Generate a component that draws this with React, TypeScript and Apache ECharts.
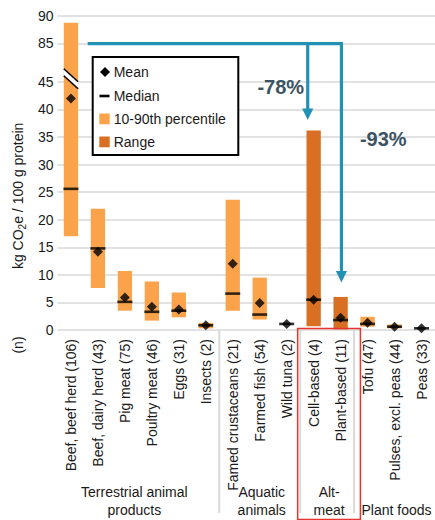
import React, { useEffect, useRef } from 'react';
import * as echarts from 'echarts';

// Food products and sample sizes
const categories = [
  'Beef, beef herd (106)',
  'Beef, dairy herd (43)',
  'Pig meat (75)',
  'Poultry meat (46)',
  'Eggs (31)',
  'Insects (2)',
  'Famed crustaceans (21)',
  'Farmed fish (54)',
  'Wild tuna (2)',
  'Cell-based (4)',
  'Plant-based (11)',
  'Tofu (47)',
  'Pulses, excl. peas (44)',
  'Peas (33)',
];

// kg CO2e per 100 g protein
const p10 = [17, 7.6, 3.5, 1.7, 2.3, 0.3, 3.5, 1.9, null, null, null, 0.6, 0.3, null];
const p90 = [88.7, 22, 10.7, 8.8, 6.8, 1.3, 23.6, 9.5, null, null, null, 2.4, 1.0, null];
const rangeMin = [null, null, null, null, null, null, null, null, null, 0.7, 0.1, null, null, null];
const rangeMax = [null, null, null, null, null, null, null, null, null, 36.2, 6.0, null, null, null];
const means = [42, 14.2, 5.9, 4.2, 3.7, 0.85, 12, 4.9, 1.1, 5.5, 2.2, 1.3, 0.6, 0.3];
const medians = [25.6, 14.8, 5.1, 3.3, 3.5, 0.85, 6.6, 2.8, 1.1, 5.5, 1.8, 1.1, 0.6, 0.3];

// Broken value axis: ticks and their labels
const yTickLabels = [0, 5, 10, 15, 20, 25, 30, 35, 40, 45, 85, 90];

// Category groups along the bottom
const groupNames = ['Terrestrial animal\nproducts', 'Aquatic\nanimals', 'Alt-\nmeat', 'Plant foods'];
const groupSizes = [6, 3, 2, 3];

// Reduction arrows (category position, value)
const arrowStartX = 0.62;
const arrowLevel = 84.7;
const arrowTargets = [
  { x: 8.78, tip: 38.1 },
  { x: 10.03, tip: 8.6 },
];
const reductionLabels = [
  { text: '-78%', x: 7.78, y: 44.1 },
  { text: '-93%', x: 11.58, y: 34.6 },
];

const FONT = "'Liberation Sans', Arial, Helvetica, sans-serif";
const TEXT = '#1a1a1a';
const PCT = '#FBA34B';
const RANGE = '#D86F22';
const TEAL = '#2391B5';
const NOTE = '#3B5363';
const GRID = '#E2E2E2';

// Compress the 45–85 stretch so the beef outlier fits
const BREAK_LO = 45;
const BREAK_HI = 85;
const BREAK_SPAN = 7;
function disp(v: number): number {
  if (v <= BREAK_LO) return v;
  if (v >= BREAK_HI) return v - (BREAK_HI - BREAK_LO) + BREAK_SPAN;
  return BREAK_LO + ((v - BREAK_LO) * BREAK_SPAN) / (BREAK_HI - BREAK_LO);
}
const yTicksDisp = yTickLabels.map(disp);

function barSeries(name: string, lo: (number | null)[], hi: (number | null)[], color: string) {
  const data: number[][] = [];
  lo.forEach((l, i) => {
    const h = hi[i];
    if (l != null && h != null) data.push([i, disp(l), disp(h)]);
  });
  return {
    name,
    type: 'custom',
    z: 2,
    itemStyle: { color },
    encode: { x: 0, y: [1, 2] },
    data,
    renderItem: (params: any, api: any) => {
      const x = api.value(0);
      const a = api.coord([x, api.value(1)]);
      const b = api.coord([x, api.value(2)]);
      const w = api.size([1, 0])[0] * 0.53;
      return {
        type: 'rect',
        shape: { x: a[0] - w / 2, y: b[1], width: w, height: a[1] - b[1] },
        style: { fill: color },
      };
    },
  };
}

function buildOption() {
  return {
    animation: false,
    textStyle: { fontFamily: FONT },
    grid: { left: 52, right: 0, top: 15.7, bottom: 190 },
    xAxis: {
      type: 'category',
      data: categories,
      axisLine: { show: false },
      axisTick: { show: false },
      axisLabel: {
        rotate: 90,
        interval: 0,
        margin: 9,
        fontSize: 14,
        color: TEXT,
        fontFamily: FONT,
      },
    },
    yAxis: {
      type: 'value',
      min: 0,
      max: disp(90),
      interval: 1,
      axisLine: { show: false },
      axisTick: { show: false, customValues: yTicksDisp },
      axisLabel: {
        customValues: yTicksDisp,
        fontSize: 14,
        color: TEXT,
        margin: 4,
        fontFamily: FONT,
        formatter: (v: number) => {
          const k = yTicksDisp.findIndex((t) => Math.abs(t - v) < 1e-6);
          return k >= 0 ? String(yTickLabels[k]) : '';
        },
      },
      splitLine: { show: true, lineStyle: { color: GRID, width: 2 } },
      name: '{a|kg CO}{s|2}{a|e / 100 g protein}',
      nameLocation: 'middle',
      nameRotate: 90,
      nameGap: 28,
      nameTextStyle: {
        padding: [0, 46, 0, 0],
        rich: {
          a: { fontSize: 14, color: TEXT, fontFamily: FONT, lineHeight: 18 },
          s: { fontSize: 10, color: TEXT, fontFamily: FONT, lineHeight: 18, padding: [9, 0, 0, 0] },
        },
      },
    },
    series: [
      barSeries('10-90th percentile', p10, p90, PCT),
      barSeries('Range', rangeMin, rangeMax, RANGE),
      {
        name: 'Median',
        type: 'scatter',
        z: 3,
        symbol: 'rect',
        symbolSize: [15, 2.6],
        itemStyle: { color: '#000' },
        data: medians.map((m, i) => [i, disp(m)]),
      },
      {
        name: 'Mean',
        type: 'scatter',
        z: 4,
        symbol: 'diamond',
        symbolSize: 10,
        itemStyle: { color: '#000' },
        data: means.map((m, i) => [i, disp(m)]),
      },
    ],
  };
}

function buildGraphics(chart: any) {
  // category axis snaps to whole indices, so fractional positions are interpolated
  const c0 = chart.convertToPixel({ gridIndex: 0 }, [0, 0]) as number[];
  const c1 = chart.convertToPixel({ gridIndex: 0 }, [1, 0]) as number[];
  const band = c1[0] - c0[0];
  const xPix = (i: number) => c0[0] + i * band;
  const yPix = (v: number) => (chart.convertToPixel({ gridIndex: 0 }, [0, disp(v)]) as number[])[1];
  const px = (i: number, v: number) => [xPix(i), yPix(v)];
  const y0 = c0[1];
  const boundary = (k: number) => xPix(k - 0.5);
  const els: any[] = [];

  // axis break marks across the beef bar
  const bw = band * 0.53;
  const yMid = yPix(48.2);
  const l = xPix(0) - bw / 2;
  const r = xPix(0) + bw / 2;
  els.push({
    type: 'polygon',
    z: 10,
    shape: { points: [[l, yMid - 10], [r, yMid + 3], [r, yMid + 10], [l, yMid - 3]] },
    style: { fill: '#fff' },
  });
  els.push({ type: 'line', z: 11, shape: { x1: l, y1: yMid - 10, x2: r, y2: yMid + 3 }, style: { stroke: '#000', lineWidth: 1.6 } });
  els.push({ type: 'line', z: 11, shape: { x1: l, y1: yMid - 3, x2: r, y2: yMid + 10 }, style: { stroke: '#000', lineWidth: 1.6 } });

  // legend box
  const lx = 92.7;
  const ly = 57;
  const legendText = (t: string, y: number) => ({
    type: 'text',
    z: 21,
    x: lx + 21,
    y: ly + y,
    style: { text: t, fontSize: 14, fill: TEXT, fontFamily: FONT, verticalAlign: 'middle', align: 'left' },
  });
  els.push({
    type: 'rect',
    z: 20,
    shape: { x: lx, y: ly, width: 145.6, height: 98 },
    style: { fill: '#fff', stroke: '#000', lineWidth: 2 },
  });
  els.push({
    type: 'polygon',
    z: 21,
    shape: { points: [[lx + 12.3, ly + 10], [lx + 17.3, ly + 15], [lx + 12.3, ly + 20], [lx + 7.3, ly + 15]] },
    style: { fill: '#000' },
  });
  els.push(legendText('Mean', 15));
  els.push({ type: 'rect', z: 21, shape: { x: lx + 6.8, y: ly + 37.7, width: 10, height: 2.6 }, style: { fill: '#000' } });
  els.push(legendText('Median', 39));
  els.push({ type: 'rect', z: 21, shape: { x: lx + 6.6, y: ly + 56.5, width: 10.4, height: 10.8 }, style: { fill: PCT } });
  els.push(legendText('10-90th percentile', 62));
  els.push({ type: 'rect', z: 21, shape: { x: lx + 6.6, y: ly + 79.5, width: 10.4, height: 10.8 }, style: { fill: RANGE } });
  els.push(legendText('Range', 85));

  // reduction arrows
  const start = px(arrowStartX, arrowLevel);
  const yH = start[1];
  const head = 11.5;
  const half = 5.6;
  arrowTargets.forEach((a, k) => {
    const tip = px(a.x, a.tip);
    if (k === arrowTargets.length - 1) {
      els.push({
        type: 'polyline',
        z: 15,
        shape: { points: [[start[0], yH], [tip[0], yH], [tip[0], tip[1] - head + 1]] },
        style: { stroke: TEAL, lineWidth: 3.2, fill: null, lineJoin: 'miter' },
      });
    } else {
      els.push({
        type: 'line',
        z: 15,
        shape: { x1: tip[0], y1: yH, x2: tip[0], y2: tip[1] - head + 1 },
        style: { stroke: TEAL, lineWidth: 3.2 },
      });
    }
    els.push({
      type: 'polygon',
      z: 15,
      shape: { points: [[tip[0] - half, tip[1] - head], [tip[0] + half, tip[1] - head], [tip[0], tip[1]]] },
      style: { fill: TEAL },
    });
  });
  reductionLabels.forEach((t) => {
    const p = px(t.x, t.y);
    els.push({
      type: 'text',
      z: 16,
      x: p[0],
      y: p[1],
      style: { text: t.text, fontSize: 20, fontWeight: 'bold', fill: NOTE, fontFamily: FONT, align: 'center', verticalAlign: 'middle' },
    });
  });

  // group separators and group names
  let k0 = 0;
  groupSizes.forEach((n, g) => {
    const a = boundary(k0);
    const b = boundary(k0 + n);
    if (g > 0) {
      els.push({ type: 'line', z: 1, shape: { x1: a, y1: y0, x2: a, y2: 513 }, style: { stroke: '#D9D9D9', lineWidth: 2 } });
    }
    els.push({
      type: 'text',
      z: 5,
      x: (a + b) / 2 + (g === 0 ? -4 : 2),
      y: 519,
      style: {
        text: groupNames[g],
        fontSize: 14,
        lineHeight: 18,
        fill: TEXT,
        fontFamily: FONT,
        align: 'center',
        verticalAlign: 'bottom',
      },
    });
    k0 += n;
  });

  // highlight box around the alt-meat group
  const altL = boundary(9) - 2.5;
  const altR = boundary(11) + 6.3;
  els.push({
    type: 'rect',
    z: 6,
    shape: { x: altL, y: y0 - 1.5, width: altR - altL, height: 519.5 - (y0 - 1.5) },
    style: { fill: null, stroke: '#E8332F', lineWidth: 1.5 },
  });

  // sample size marker
  els.push({
    type: 'text',
    z: 5,
    x: 18,
    y: 345,
    rotation: Math.PI / 2,
    style: { text: '(n)', fontSize: 14, fill: TEXT, fontFamily: FONT, align: 'center', verticalAlign: 'middle' },
  });

  return els;
}

export default function App() {
  const ref = useRef<HTMLDivElement>(null);
  useEffect(() => {
    const chart = echarts.init(ref.current!, null, { renderer: 'svg' });
    chart.setOption(buildOption() as any);
    chart.setOption({ graphic: buildGraphics(chart) } as any);
    return () => chart.dispose();
  }, []);
  return <div ref={ref} style={{ position: 'absolute', left: 0, top: 0, width: 435, height: 520 }} />;
}
